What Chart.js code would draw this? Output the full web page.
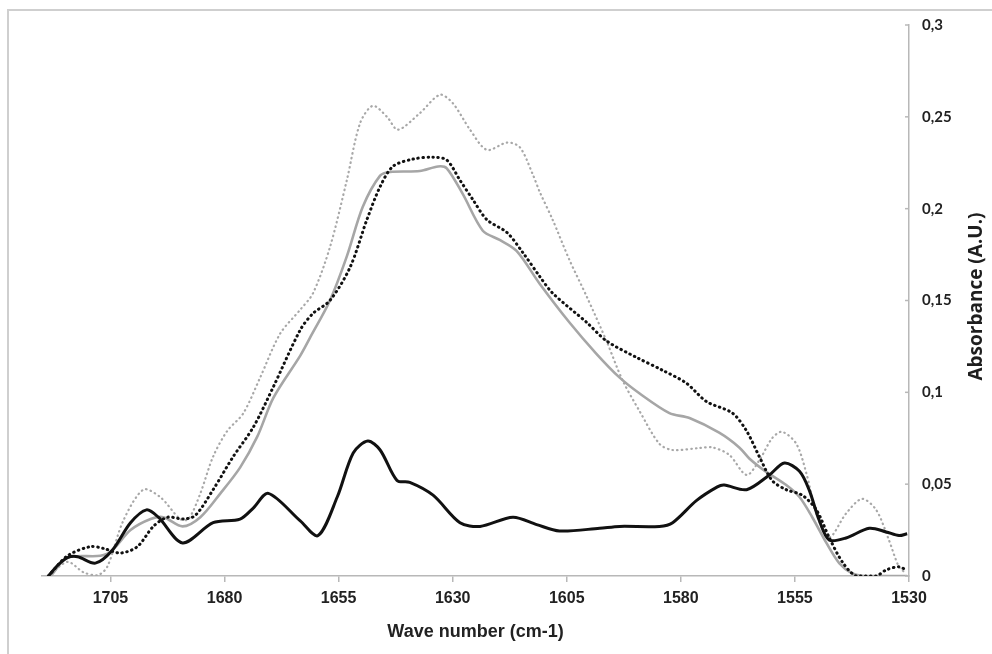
<!DOCTYPE html>
<html>
<head>
<meta charset="utf-8">
<title>Absorbance spectra</title>
<script src="https://cdn.jsdelivr.net/npm/chart.js@4/dist/chart.umd.min.js"></script>
<style>
  html, body { margin: 0; padding: 0; background: #fff; }
  #wrap { position: relative; width: 992px; height: 654px; overflow: hidden; }
  #frame { position: absolute; left: 7px; top: 9px; width: 1000px; height: 700px;
           border-top: 2px solid #cfcfcf; border-left: 2px solid #cfcfcf; box-sizing: border-box; }
  #chart { position: absolute; left: 0; top: 0; }
</style>
</head>
<body>
<div id="wrap">
  <div id="frame"></div>
  <canvas id="chart" width="992" height="654"></canvas>
</div>
<script>
// values (wave number in cm-1, absorbance in A.U.)
var blackSolidWave = [1718.6, 1716.5, 1714.4, 1712.2, 1708.3, 1704.6, 1700.6, 1697.1, 1694.5, 1689.2,
  1682.5, 1676.6, 1673.7, 1670.4, 1663.4, 1659.5, 1655.3, 1651.8, 1648.6, 1645.9, 1642.2, 1639.4,
  1634.3, 1628.4, 1624.0, 1616.8, 1611.6, 1606.6, 1597.8, 1593.4, 1584.7, 1581.8, 1576.6, 1572.0,
  1570.5, 1565.6, 1560.6, 1557.3, 1554.0, 1551.9, 1549.7, 1547.5, 1543.8, 1538.7, 1535.0, 1532.2, 1530.4];
var blackSolidAbs = [0, 0.006, 0.010, 0.0105, 0.007, 0.014, 0.029, 0.036, 0.032, 0.018,
  0.029, 0.031, 0.037, 0.045, 0.030, 0.022, 0.043, 0.067, 0.0735, 0.0686, 0.052, 0.051,
  0.044, 0.029, 0.027, 0.032, 0.028, 0.0245, 0.026, 0.027, 0.027, 0.029, 0.041, 0.0485,
  0.0495, 0.047, 0.055, 0.0615, 0.057, 0.047, 0.0305, 0.0196, 0.0207, 0.026, 0.024, 0.022, 0.023];

var graySolidWave = [1718.1, 1714.4, 1707.2, 1704.6, 1700.6, 1696.2, 1693.4, 1689.2, 1685.3, 1680.9,
  1676.6, 1672.8, 1669.3, 1663.4, 1661.2, 1656.9, 1653.2, 1649.7, 1645.9, 1643.7, 1637.2, 1633.2,
  1631.3, 1627.8, 1623.4, 1619.7, 1616.0, 1610.9, 1604.4, 1598.5, 1593.4, 1589.1, 1582.5, 1578.1,
  1571.6, 1567.2, 1565.0, 1561.3, 1556.9, 1554.0, 1551.2, 1548.1, 1545.3, 1542.5, 1539.8, 1530.4];
var graySolidAbs = [0, 0.010, 0.011, 0.014, 0.025, 0.031, 0.032, 0.027, 0.032, 0.045,
  0.059, 0.076, 0.097, 0.120, 0.130, 0.150, 0.174, 0.201, 0.218, 0.220, 0.2205, 0.223,
  0.222, 0.208, 0.188, 0.183, 0.177, 0.159, 0.138, 0.121, 0.108, 0.0995, 0.0887, 0.086,
  0.078, 0.070, 0.064, 0.0567, 0.0495, 0.043, 0.032, 0.018, 0.007, 0.0015, 0, 0];

var blackDotWave = [1718.6, 1714.4, 1709.4, 1706.5, 1702.8, 1699.1, 1695.6, 1692.5, 1689.0, 1686.4,
  1682.5, 1678.1, 1673.7, 1669.3, 1663.4, 1660.6, 1656.9, 1652.5, 1648.8, 1645.9, 1643.1, 1638.7,
  1634.3, 1631.3, 1628.4, 1625.6, 1622.5, 1618.1, 1614.6, 1610.9, 1608.1, 1600.6, 1596.3, 1589.7,
  1584.0, 1578.8, 1574.4, 1568.7, 1565.6, 1562.8, 1560.0, 1556.9, 1553.4, 1550.3, 1547.5, 1544.6,
  1541.6, 1537.2, 1535.0, 1532.2, 1530.4];
var blackDotAbs = [0, 0.011, 0.016, 0.015, 0.0125, 0.016, 0.027, 0.032, 0.031, 0.033,
  0.047, 0.065, 0.081, 0.103, 0.134, 0.143, 0.150, 0.168, 0.194, 0.212, 0.223, 0.227,
  0.228, 0.2265, 0.2155, 0.205, 0.194, 0.187, 0.176, 0.163, 0.154, 0.138, 0.128, 0.119,
  0.112, 0.105, 0.095, 0.0887, 0.079, 0.065, 0.052, 0.047, 0.044, 0.036, 0.021, 0.0076,
  0, 0, 0.0033, 0.005, 0.003];

var grayDotWave = [1718.6, 1714.4, 1710.9, 1707.8, 1705.7, 1702.2, 1697.8, 1694.1, 1689.7, 1687.9,
  1685.3, 1682.5, 1679.4, 1675.9, 1672.2, 1667.8, 1663.4, 1660.6, 1656.9, 1653.2, 1650.3, 1647.5,
  1644.4, 1642.0, 1637.2, 1632.8, 1630.0, 1626.2, 1622.5, 1618.1, 1615.3, 1612.5, 1610.9, 1608.1,
  1604.4, 1600.6, 1596.3, 1592.8, 1589.1, 1584.7, 1581.8, 1575.9, 1573.1, 1569.4, 1565.6, 1562.8,
  1560.0, 1557.8, 1554.7, 1552.5, 1550.3, 1547.5, 1543.8, 1540.3, 1537.2, 1534.4, 1532.2, 1530.6];
var grayDotAbs = [0, 0.0077, 0.002, 0.0005, 0.005, 0.030, 0.047, 0.043, 0.031, 0.031,
  0.045, 0.065, 0.079, 0.0885, 0.108, 0.132, 0.145, 0.154, 0.179, 0.2155, 0.2465, 0.256,
  0.250, 0.243, 0.252, 0.262, 0.2575, 0.243, 0.232, 0.236, 0.2335, 0.219, 0.209, 0.194,
  0.172, 0.152, 0.128, 0.1067, 0.090, 0.072, 0.0686, 0.0697, 0.070, 0.066, 0.055, 0.063,
  0.075, 0.0785, 0.072, 0.056, 0.034, 0.021, 0.034, 0.042, 0.036, 0.0196, 0.005, 0.0015];

var xTickValues = [1705, 1680, 1655, 1630, 1605, 1580, 1555, 1530];
var yTickValues = [0, 0.05, 0.1, 0.15, 0.2, 0.25, 0.3];
var xTitle = 'Wave number (cm-1)';
var yTitle = 'Absorbance (A.U.)';

function pairs(xs, ys) {
  return xs.map(function(x, i) { return { x: x, y: ys[i] }; });
}

function commaTick(v) {
  return String(parseFloat(v.toFixed(2))).replace('.', ',');
}

var axisColor = '#b8b8b8';

// y axis: ticks pointing into the plot and a title reading bottom-up
var extras = {
  id: 'extras',
  afterDraw: function(chart) {
    var ctx = chart.ctx, y = chart.scales.y;
    ctx.save();
    ctx.strokeStyle = axisColor;
    ctx.lineWidth = 1.5;
    y.ticks.forEach(function(t) {
      var py = y.getPixelForValue(t.value);
      ctx.beginPath();
      ctx.moveTo(y.left - 4, py);
      ctx.lineTo(y.left, py);
      ctx.stroke();
    });
    ctx.translate(977, (y.top + y.bottom) / 2 - 4);
    ctx.rotate(-Math.PI / 2);
    ctx.font = 'bold 19px "Open Sans"';
    ctx.fillStyle = '#1e1e1e';
    ctx.textAlign = 'center';
    ctx.textBaseline = 'middle';
    ctx.fillText(yTitle, 0, 0);
    ctx.restore();
  }
};

new Chart(document.getElementById('chart'), {
  type: 'scatter',
  data: {
    datasets: [
      { data: pairs(blackSolidWave, blackSolidAbs), borderColor: '#111', borderWidth: 3 },
      { data: pairs(blackDotWave, blackDotAbs), borderColor: '#111', borderWidth: 3,
        borderDash: [0.5, 4.5], borderCapStyle: 'round' },
      { data: pairs(graySolidWave, graySolidAbs), borderColor: '#a6a6a6', borderWidth: 2.6 },
      { data: pairs(grayDotWave, grayDotAbs), borderColor: '#a8a8a8', borderWidth: 2.2,
        borderDash: [0.5, 4.2], borderCapStyle: 'round' }
    ]
  },
  options: {
    responsive: false,
    animation: false,
    devicePixelRatio: 1,
    showLine: true,
    elements: {
      point: { radius: 0 },
      line: { tension: 0.3, fill: false }
    },
    layout: { padding: { left: 42, top: 25, right: 0, bottom: 0 } },
    plugins: { legend: { display: false }, tooltip: { enabled: false } },
    scales: {
      x: {
        type: 'linear',
        reverse: true,
        min: 1530,
        max: 1720,
        afterFit: function(s) { s.height = 78; },
        afterBuildTicks: function(s) {
          s.ticks = xTickValues.map(function(v) { return { value: v }; });
        },
        ticks: {
          padding: 7,
          color: '#222',
          font: { family: 'Liberation Sans', weight: 'bold', size: 16 },
          callback: function(v) { return String(v); }
        },
        grid: { drawOnChartArea: false, tickLength: 6, color: axisColor, lineWidth: 1.5 },
        border: { display: true, color: axisColor, width: 1.5 },
        title: {
          display: true,
          text: xTitle,
          color: '#222',
          font: { family: 'Liberation Sans', weight: 'bold', size: 18 },
          padding: { top: 0, bottom: 11 }
        }
      },
      y: {
        type: 'linear',
        position: 'right',
        min: 0,
        max: 0.3,
        afterFit: function(s) { s.width = 83; },
        afterBuildTicks: function(s) {
          s.ticks = yTickValues.map(function(v) { return { value: v }; });
        },
        ticks: {
          padding: 13,
          color: '#222',
          font: { family: 'Lato', weight: 'bold', size: 15 },
          callback: function(v) { return commaTick(v); }
        },
        grid: { drawOnChartArea: false, drawTicks: false },
        border: { display: true, color: axisColor, width: 1.5 }
      }
    }
  },
  plugins: [extras]
});
</script>
</body>
</html>
